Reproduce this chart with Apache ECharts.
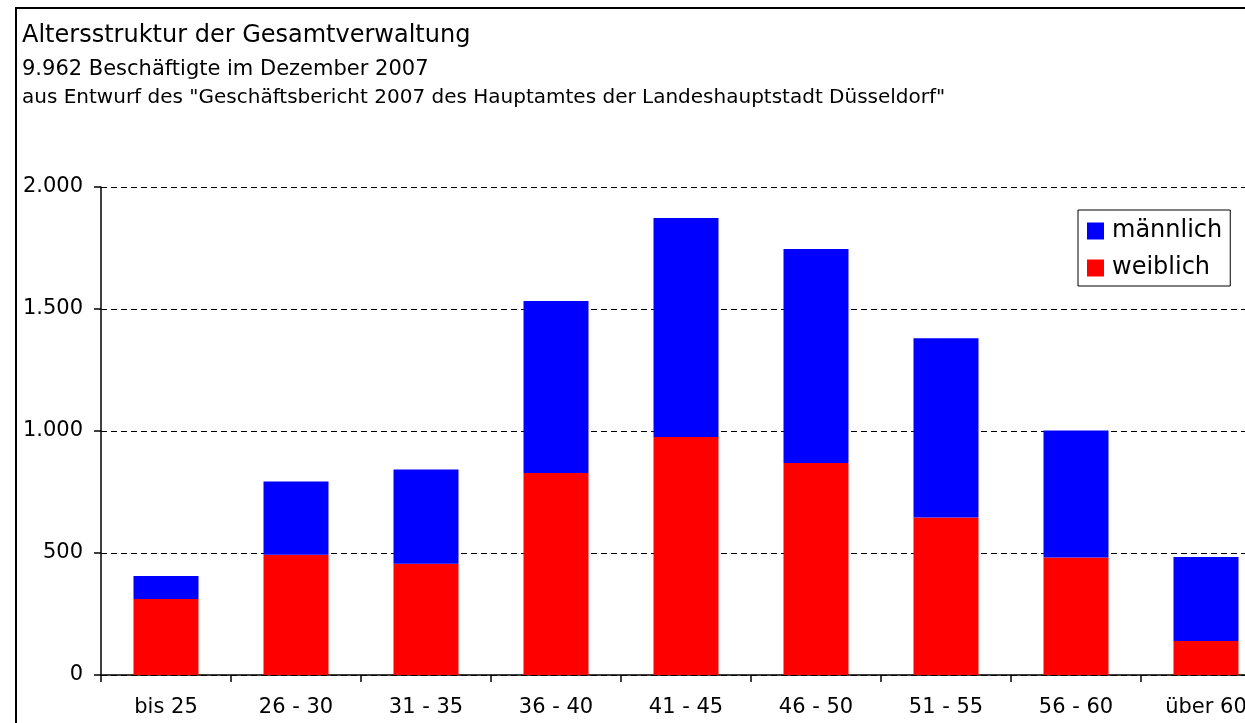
<!DOCTYPE html>
<html>
<head>
<meta charset="utf-8">
<title>Altersstruktur der Gesamtverwaltung</title>
<script src="https://cdn.jsdelivr.net/npm/echarts@6/dist/echarts.min.js"></script>
<style>
  html, body { margin: 0; padding: 0; background: #fff; }
  #chart { width: 1245px; height: 723px; }
</style>
</head>
<body>
<div id="chart"></div>
<script>
const categories = ["bis 25", "26 - 30", "31 - 35", "36 - 40", "41 - 45", "46 - 50", "51 - 55", "56 - 60", "über 60"];
const weiblich = [311, 493, 456, 828, 975, 869, 646, 482, 139];
const gesamt = [406, 793, 842, 1533, 1873, 1746, 1380, 1002, 484];
const maennlich = gesamt.map((t, i) => t - weiblich[i]);
const yTicks = [0, 500, 1000, 1500, 2000];

const FONT = "DejaVu Sans";

const chart = echarts.init(document.getElementById("chart"), null, { renderer: "canvas" });

const fmtDe = (v) => String(v).replace(/\B(?=(\d{3})+(?!\d))/g, ".");

chart.setOption({
  animation: false,
  backgroundColor: "#fff",
  textStyle: { fontFamily: FONT, color: "#000" },
  graphic: [
    {
      type: "rect",
      shape: { x: 16, y: 8, width: 1400, height: 900 },
      style: { fill: "none", stroke: "#000", lineWidth: 2 },
      z: 0,
    },
    {
      type: "text",
      left: 22,
      top: 24,
      style: { text: "Altersstruktur der Gesamtverwaltung", font: `24px "${FONT}"`, fill: "#000" },
    },
    {
      type: "text",
      left: 22,
      top: 59,
      style: { text: "9.962 Beschäftigte im Dezember 2007", font: `21px "${FONT}"`, fill: "#000" },
    },
    {
      type: "text",
      left: 22,
      top: 88,
      style: {
        text: 'aus Entwurf des "Geschäftsbericht 2007 des Hauptamtes der Landeshauptstadt Düsseldorf"',
        font: `20px "${FONT}"`,
        fill: "#000",
      },
    },
  ],
  legend: {
    data: ["männlich", "weiblich"],
    orient: "vertical",
    left: 1078,
    top: 210,
    itemWidth: 17,
    itemHeight: 17,
    itemGap: 13,
    padding: [9, 8, 6, 9],
    borderColor: "#000",
    borderWidth: 1,
    icon: "rect",
    textStyle: { fontFamily: FONT, fontSize: 24, color: "#000", padding: [0, 0, 0, 3] },
  },
  grid: { left: 101, width: 1170, top: 187, bottom: 48, outerBoundsMode: "none" },
  xAxis: {
    type: "category",
    data: categories,
    axisLine: { lineStyle: { color: "#000", width: 1.5 } },
    axisTick: { show: true, length: 7, alignWithLabel: false, lineStyle: { color: "#000", width: 1.5 } },
    axisLabel: { fontFamily: FONT, fontSize: 21, color: "#000", margin: 22 },
  },
  yAxis: {
    type: "value",
    min: 0,
    max: 2000,
    interval: 500,
    axisLine: { show: true, lineStyle: { color: "#000", width: 1.5 } },
    axisTick: { show: true, length: 7, lineStyle: { color: "#000", width: 1.5 } },
    axisLabel: {
      fontFamily: FONT,
      fontSize: 21,
      color: "#000",
      margin: 18,
      formatter: (v) => (yTicks.includes(v) ? fmtDe(v) : ""),
    },
    splitLine: { show: true, lineStyle: { color: "#000", width: 1, type: [6, 4] } },
  },
  series: [
    {
      name: "weiblich",
      type: "bar",
      stack: "gesamt",
      data: weiblich,
      barWidth: "50%",
      itemStyle: { color: "#ff0000" },
      z: 3,
    },
    {
      name: "männlich",
      type: "bar",
      stack: "gesamt",
      data: maennlich,
      barWidth: "50%",
      itemStyle: { color: "#0000ff" },
      z: 3,
    },
  ],
});
</script>
</body>
</html>
